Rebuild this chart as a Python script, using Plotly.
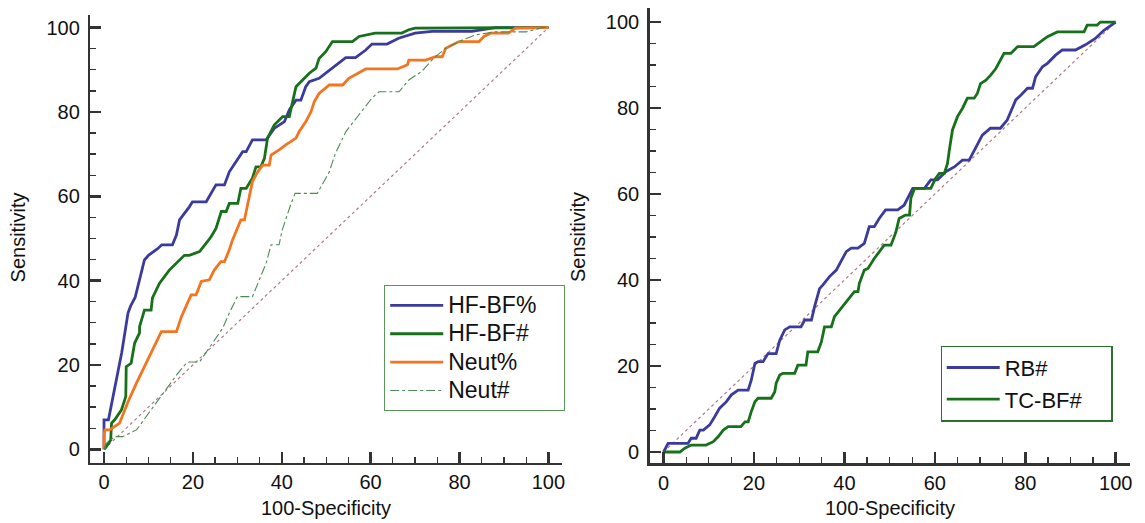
import plotly.graph_objects as go

# ---------------- data ----------------
# Left panel
hfbf_pct_x = [0, 0, 1, 1.7, 3.5, 4, 5.4, 6, 7, 8, 9.1, 10, 12, 13, 15.4, 16.3, 17, 19.2, 19.9, 23,
              24.5, 25.2, 27.1, 28.2, 29.7, 31.2, 32, 33.4, 36.5, 38.3, 40.6, 41.7, 43.2, 44.3, 45.4,
              46.2, 48.4, 49.9, 52.9, 54.4, 56.6, 58.9, 60.3, 63.7, 66.3, 70, 73.8, 82.8, 88, 100]
hfbf_pct_y = [0, 7, 7, 10.7, 20.5, 23, 32.3, 34, 36, 40, 44.9, 46, 47.5, 48.5, 48.5, 50.8, 54.4, 57.5, 58.7, 58.7,
              61.5, 62.7, 62.7, 65.8, 68.2, 70.6, 70.6, 73.4, 73.4, 76.1, 77.7, 80.5, 82.8, 82.8, 86,
              87.2, 88, 89.2, 91.6, 92.9, 92.9, 94.7, 96.1, 96.1, 97.5, 98.7, 99.1, 99.1, 100, 100]

hfbf_num_x = [0, 0.3, 1.5, 1.7, 2.4, 3.9, 4.9, 5, 6.1, 6.9, 8, 8, 9.1, 10.6, 10.9, 12.5, 14.7, 16.3, 18.1, 19.2,
              21.5, 23, 24.1, 25.2, 26.4, 27.5, 28.2, 30.1, 30.8, 32, 33.4, 34.2, 35.3, 36.1, 36.8, 38.3,
              40.2, 41.7, 42.1, 43.2, 44.7, 46.2, 47.7, 48.4, 49.9, 51.4, 55.9, 57.4, 61, 67, 68.6, 70, 100]
hfbf_num_y = [0, 0.3, 2.2, 6.2, 7, 9.3, 12.5, 19.6, 20.4, 25.2, 27.6, 29.1, 33, 33, 35.9, 39.4, 42.5, 44.1, 46, 46,
              46.9, 48.9, 50.4, 52.4, 56.4, 56.4, 58.3, 58.3, 61.9, 61.9, 64.3, 67, 67, 69, 73.8, 76.9,
              78.9, 78.9, 80.9, 86, 87.6, 89.2, 90.4, 92.7, 94.3, 96.7, 96.7, 97.9, 98.7, 98.7, 99.5, 99.9, 100]

neut_pct_x = [0, 0, 0.2, 1.3, 3.5, 5.3, 7.3, 9.5, 11.4, 12.9, 16.3, 17.4, 19.6, 20.7, 21.9, 23.7, 24.8, 26.3,
              27.1, 28.2, 28.9, 29.7, 30.8, 31.6, 32.3, 33.4, 34.6, 35.7, 37.2, 37.6, 39.4, 40.9, 43.2, 43.9,
              45.4, 46.6, 47.3, 48.4, 50.7, 53.7, 55.1, 57, 58.9, 66, 68.3, 68.6, 72.4, 74.6, 76.1, 76.9,
              78.4, 79.9, 84.4, 85.5, 87, 91, 92.6, 100]
neut_pct_y = [0, 3.4, 4.6, 4.6, 6.2, 11, 15.7, 20.5, 24.7, 27.9, 27.9, 31.4, 36.6, 36.6, 39.8, 40.2, 42.5, 44.5,
              44.5, 47.3, 49.6, 51.6, 54.4, 54.4, 57.9, 63.5, 65.8, 67.4, 67.4, 69.8, 71, 72.2, 73.8, 75.3,
              77.7, 80.1, 82.4, 84.4, 86.4, 86.4, 88, 89.2, 90.2, 90.2, 91.2, 92.3, 92.3, 93.1, 93.1, 95.1,
              95.9, 96.7, 96.7, 97.9, 98.7, 98.7, 99.9, 100]

neut_num_x = [0, 0.5, 2.4, 4.2, 7.3, 10.6, 14, 16.6, 18.5, 19.2, 21.5, 24.4, 26.7, 28.2, 30, 33.4, 35, 36.5,
              37.6, 39.4, 40.1, 41, 42, 43, 48, 50.7, 52, 54.4, 57.4, 60.3, 61.9, 66.4, 68.6, 71.5, 74.2,
              76.9, 79.8, 83.6, 88, 95, 98.5, 100]
neut_num_y = [0, 1.4, 3, 3, 4.6, 9.3, 14, 18, 20.4, 20.7, 20.7, 25.2, 28.7, 32.3, 36.2, 36.2, 40.2, 44.2,
              48.5, 48.5, 52, 55, 58, 60.7, 60.7, 65.8, 70, 75.3, 79.3, 83.3, 84.8, 84.8, 87.6, 89.6, 92.8,
              95.1, 96.7, 98.3, 99, 99, 100, 100]

# Right panel
rb_x = [0, 1, 5.4, 6.1, 7.2, 8, 8.8, 10.2, 11.3, 12.4, 13.9, 15, 16.5, 18.7, 19.4, 20.2, 20.9, 22, 23.1, 24.9,
        25.7, 26.8, 27.9, 30.4, 31.2, 32.7, 33.4, 34.5, 35.2, 36.7, 38.2, 39.3, 40.4, 41.5, 43, 44.4, 45.5,
        46.6, 47.7, 49.1, 51.8, 53.2, 54, 55.1, 57.7, 59.1, 60.6, 62.4, 64.3, 66.1, 67.6, 69, 70.5, 72.3,
        74.5, 76, 76.8, 77.9, 79, 80.5, 81.6, 82.3, 83.8, 84.9, 86.7, 88.2, 91.1, 93.3, 95.5, 97.4, 100]
rb_y = [0, 2, 2, 3.2, 3.2, 5.1, 5.1, 6.3, 8.2, 10.2, 11.7, 13.3, 14.4, 14.4, 16.7, 20.6, 21, 21, 22.9, 22.9,
        26, 28.4, 29.1, 29.1, 30.7, 30.7, 33.8, 38, 38.8, 40.8, 42.3, 44.3, 46.6, 47.4, 47.4, 48.5, 52.4,
        52.4, 54.3, 56.3, 56.3, 57.4, 59, 61.3, 61.3, 63.3, 63.3, 65.2, 66.3, 67.9, 67.9, 70.6, 73.7, 75.3,
        75.3, 77.2, 79.1, 81.9, 83, 84.6, 84.6, 87.3, 89.6, 90.4, 92.3, 93.5, 93.5, 94.7, 96.2, 98.1, 100]

tcbf_x = [0, 3.6, 4.7, 6.1, 9.4, 11, 12.1, 13.2, 14.3, 17.1, 18, 18.7, 19.4, 20.2, 20.9, 23.8, 24.6, 24.9,
          25.7, 26.4, 29, 29.7, 31.5, 31.9, 34.1, 34.9, 35.6, 37.1, 37.8, 39.3, 40.7, 42.2, 43, 43.3, 44.4,
          45.2, 46.6, 48.8, 50.3, 51.4, 52.1, 53.5, 54.4, 54.7, 55.5, 59.1, 60.2, 61, 62.1, 62.8, 63.2,
          63.9, 65, 66.1, 67.2, 68.7, 69.4, 70.1, 71.3, 72.4, 73.5, 74.6, 75.3, 76.8, 78.3, 81.9, 83.4,
          84.9, 87.1, 93, 93.7, 95.9, 96.6, 100]
tcbf_y = [0, 0, 0.9, 1.6, 1.6, 2.4, 3.6, 5.1, 5.9, 5.9, 7, 7, 9.4, 11.7, 12.5, 12.5, 14, 16,
          17.9, 18.3, 18.3, 20.2, 20.2, 23.3, 23.3, 25.6, 29.1, 29.1, 31.5, 33.4, 35.3, 37.3, 37.3, 39.2, 42.3,
          42.7, 45, 48.1, 48.1, 51.2, 54.3, 55.1, 55.1, 59, 61.3, 61.3, 63.7, 64.8, 64.8, 67.1, 70.2,
          74.9, 78, 79.9, 82.3, 82.3, 83.4, 85.7, 86.5, 87.7, 89.2, 91.2, 92.7, 92.7, 94.3, 94.3, 95.4,
          96.6, 97.7, 97.7, 99.3, 99.3, 100, 100]

diag = [0, 100]
tick_vals = [0, 20, 40, 60, 80, 100]
x_title = "100-Specificity"
y_title = "Sensitivity"

# ---------------- styles ----------------
BLUE = "#3b3b9e"
GREEN = "#17701a"
ORANGE = "#f47520"
NEUT_NUM = "#4e8a58"
DIAG = "#b07a86"
AXIS = "#333333"
FONT = "Liberation Sans, Arial, sans-serif"
PAD = "\u00a0\u00a0\u00a0\u00a0"  # right padding inside legend boxes

W, H = 1145, 523

fig = go.Figure()

# diagonals
fig.add_trace(go.Scatter(x=diag, y=diag, mode="lines", line=dict(color=DIAG, width=1.2, dash="dot"),
                         showlegend=False, xaxis="x", yaxis="y", hoverinfo="skip"))
fig.add_trace(go.Scatter(x=diag, y=diag, mode="lines", line=dict(color=DIAG, width=1.2, dash="dot"),
                         showlegend=False, xaxis="x2", yaxis="y2", hoverinfo="skip"))


def big(label):
    return "<span style='font-size:23px'>" + label + "</span>" + PAD


left_series = [
    ("HF-BF%", hfbf_pct_x, hfbf_pct_y, dict(color=BLUE, width=2.8)),
    ("HF-BF#", hfbf_num_x, hfbf_num_y, dict(color=GREEN, width=2.8)),
    ("Neut%", neut_pct_x, neut_pct_y, dict(color=ORANGE, width=2.8)),
    ("Neut#", neut_num_x, neut_num_y, dict(color=NEUT_NUM, width=1.1, dash="dashdot")),
]
for name, xs, ys, ln in left_series:
    fig.add_trace(go.Scatter(x=xs, y=ys, mode="lines", name=big(name), line=ln,
                             xaxis="x", yaxis="y", legend="legend"))

right_series = [
    ("RB#", rb_x, rb_y, dict(color=BLUE, width=2.8)),
    ("TC-BF#", tcbf_x, tcbf_y, dict(color=GREEN, width=2.8)),
]
for name, xs, ys, ln in right_series:
    fig.add_trace(go.Scatter(x=xs, y=ys, mode="lines", name=name + PAD, line=ln,
                             xaxis="x2", yaxis="y2", legend="legend2"))


def axis_style(domain, rng, anchor, standoff):
    return dict(
        domain=domain, range=rng, anchor=anchor,
        showgrid=False, zeroline=False,
        showline=True, linecolor=AXIS, linewidth=2.5,
        ticks="inside", ticklen=11, tickwidth=2.5, tickcolor=AXIS,
        tickvals=tick_vals, ticklabelstandoff=standoff,
        tickfont=dict(family=FONT, size=20, color="#111111"),
        minor=dict(ticks="inside", ticklen=6, tickwidth=1.3, tickcolor=AXIS, dtick=5, showgrid=False),
        fixedrange=True,
    )


legend_common = dict(xanchor="left", yanchor="top", bgcolor="white", borderwidth=1.2,
                     itemwidth=53, tracegroupgap=0)

title_font = dict(family=FONT, size=20, color="#111111")

fig.update_layout(
    width=W, height=H,
    margin=dict(l=0, r=0, t=0, b=0),
    paper_bgcolor="white", plot_bgcolor="white",
    font=dict(family=FONT, color="#111111"),
    hovermode=False,
    xaxis=axis_style([90.6 / W, 563 / W], [-3.07, 102.96], "y", 0),
    yaxis=axis_style([(H - 462.7) / H, (H - 15) / H], [-3.18, 103.0], "x", 4),
    xaxis2=axis_style([651.4 / W, 1132.9 / W], [-3.07, 103.15], "y2", 0),
    yaxis2=axis_style([(H - 463.3) / H, (H - 8.3) / H], [-2.63, 103.2], "x2", 4),
    legend=dict(x=385 / W, y=(H - 285) / H, bordercolor="#5a975a",
                font=dict(family=FONT, size=19.5, color="#111111"), **legend_common),
    legend2=dict(x=943 / W, y=(H - 345.5) / H, bordercolor="#2a722a",
                 font=dict(family=FONT, size=22, color="#111111"), **legend_common),
    annotations=[
        dict(text=y_title, x=18.5 / W, y=(H - 237) / H, xref="paper", yref="paper", showarrow=False,
             xanchor="center", yanchor="middle", textangle=-90, font=title_font),
        dict(text=y_title, x=579.5 / W, y=(H - 237) / H, xref="paper", yref="paper", showarrow=False,
             xanchor="center", yanchor="middle", textangle=-90, font=title_font),
        dict(text=x_title, x=327 / W, y=(H - 508) / H, xref="paper", yref="paper", showarrow=False,
             xanchor="center", yanchor="middle", font=title_font),
        dict(text=x_title, x=892 / W, y=(H - 508) / H, xref="paper", yref="paper", showarrow=False,
             xanchor="center", yanchor="middle", font=title_font),
    ],
)

fig.write_html("out.html", config={"displayModeBar": False, "staticPlot": True},
               post_script="document.body.style.margin='0';document.body.style.overflow='hidden';")
